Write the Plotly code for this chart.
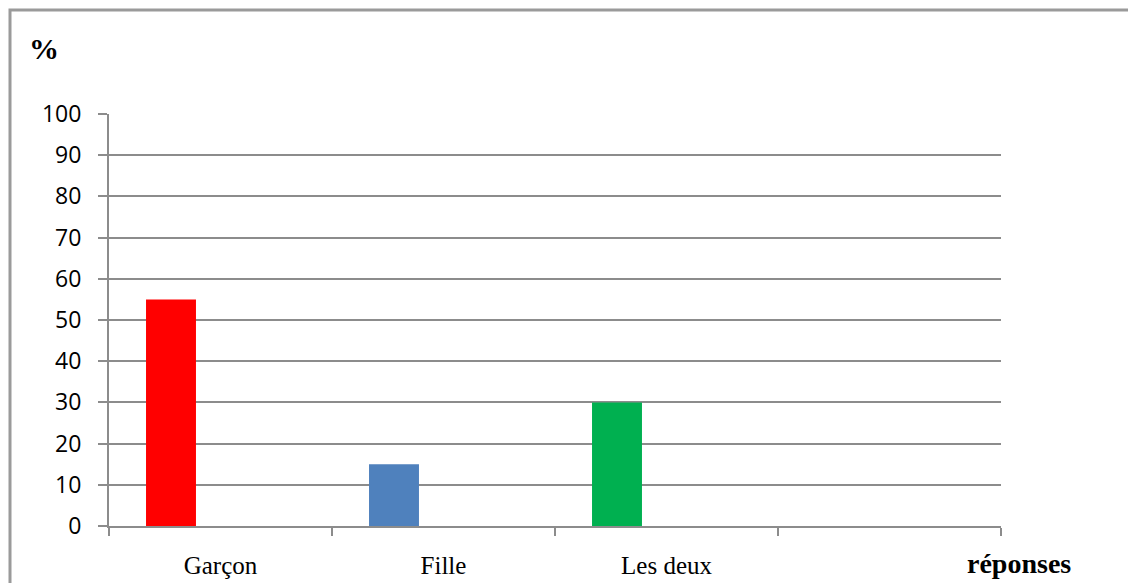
import plotly.graph_objects as go

# Survey answers (%)
categories = ["Garçon", "Fille", "Les deux"]
values = [55, 15, 30]
bar_colors = ["#FF0000", "#4F81BD", "#00B050"]
y_ticks = list(range(0, 101, 10))

W, H = 1128, 583
ML, MR, MT, MB = 109, 127, 114, 57
PW, PH = W - ML - MR, H - MT - MB

positions = list(range(len(categories)))
n_slots = len(categories) + 1
boundaries = [i - 0.5 for i in range(n_slots + 1)]

grid = "#8c8c8c"

fig = go.Figure(
    go.Bar(
        x=positions,
        y=values,
        marker=dict(color=bar_colors, line=dict(width=0)),
        width=0.224,
        offset=-0.334,
        showlegend=False,
        hoverinfo="skip",
    )
)


def px_to_paper(px, py):
    return (px - ML) / PW, (H - MB - py) / PH


bx0, by1 = px_to_paper(10, 10)
bx1, by0 = px_to_paper(W + 20, H + 20)

fig.update_layout(
    width=W,
    height=H,
    margin=dict(l=ML, r=MR, t=MT, b=MB, pad=0, autoexpand=False),
    paper_bgcolor="white",
    plot_bgcolor="white",
    xaxis=dict(
        range=[-0.5, n_slots - 0.5],
        tickmode="array",
        tickvals=positions,
        ticktext=categories,
        ticks="",
        showgrid=False,
        zeroline=False,
        showline=True,
        linecolor=grid,
        linewidth=2,
        automargin=False,
        tickfont=dict(family="Liberation Serif", size=25, color="black"),
        ticklabelstandoff=16,
        minor=dict(
            tickmode="array",
            tickvals=boundaries,
            ticks="outside",
            ticklen=8,
            tickwidth=2,
            tickcolor=grid,
            showgrid=False,
        ),
        fixedrange=True,
    ),
    yaxis=dict(
        range=[0, 100],
        tickmode="array",
        tickvals=y_ticks,
        ticks="outside",
        ticklen=9,
        tickwidth=2,
        tickcolor=grid,
        showgrid=True,
        gridcolor=grid,
        gridwidth=2,
        zeroline=False,
        showline=True,
        linecolor=grid,
        linewidth=2,
        automargin=False,
        tickfont=dict(family="Open Sans", size=23, color="black"),
        ticklabelstandoff=12,
        fixedrange=True,
    ),
    shapes=[
        dict(
            type="rect",
            xref="paper",
            yref="paper",
            x0=bx0,
            x1=bx1,
            y0=by0,
            y1=by1,
            line=dict(color="#9a9a9a", width=3),
            fillcolor="rgba(0,0,0,0)",
            layer="below",
        )
    ],
    annotations=[
        dict(
            text="<b>%</b>",
            xref="paper",
            yref="paper",
            x=px_to_paper(44, 49)[0],
            y=px_to_paper(44, 49)[1],
            xanchor="center",
            yanchor="middle",
            showarrow=False,
            font=dict(family="Liberation Serif", size=30, color="black"),
        ),
        dict(
            text="<b>réponses</b>",
            xref="paper",
            yref="paper",
            x=px_to_paper(1019, 563)[0],
            y=px_to_paper(1019, 563)[1],
            xanchor="center",
            yanchor="middle",
            showarrow=False,
            font=dict(family="Liberation Serif", size=28, color="black"),
        ),
    ],
)

fig.write_html("out.html", config={"displayModeBar": False})
